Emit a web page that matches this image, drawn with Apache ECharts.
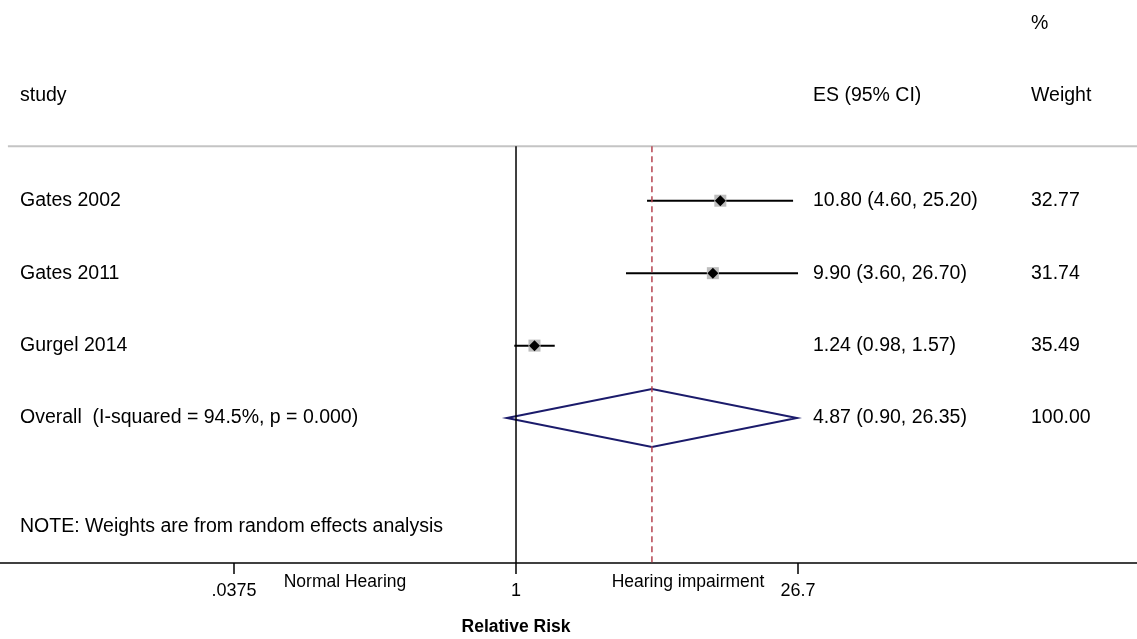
<!DOCTYPE html>
<html><head><meta charset="utf-8">
<script src="https://cdn.jsdelivr.net/npm/echarts@6/dist/echarts.min.js"></script>
<style>html,body{margin:0;padding:0;background:#fff}#c{width:1137px;height:639px}</style>
</head><body><div id="c"></div>
<script>
// ---- data ----
const studies = ['Gates 2002', 'Gates 2011', 'Gurgel 2014'];
const studyES = [10.80, 9.90, 1.24];
const studyLo = [4.60, 3.60, 0.98];
const studyHi = [25.20, 26.70, 1.57];
const studyWeight = ['32.77', '31.74', '35.49'];
const overallLabel = 'Overall  (I-squared = 94.5%, p = 0.000)';
const overallES = 4.87, overallLo = 0.90, overallHi = 26.35;
const overallWeight = '100.00';
const noteText = 'NOTE: Weights are from random effects analysis';
const tickValues = [0.0375, 1, 26.7];
const tickLabels = ['.0375', '1', '26.7'];
const favourLeft = 'Normal Hearing', favourRight = 'Hearing impairment';
const axisTitle = 'Relative Risk';

// ---- layout (log10 space on x, row index on y) ----
const xLogMin = -2.61, xLogMax = 3.141, ruleStart = -2.57;
const rowMin = -1.77, rowMax = 6;
const studyRows = [1, 2, 3];
const overallRow = 4, noteRow = 5.5, headerRow = -0.45, pctRow = -1.45, ruleRow = 0.25, axisRow = 6;
const L = Math.log10;
const FONT = '"Liberation Sans", Arial, sans-serif';

const studyData = studies.map((s, i) => [L(studyES[i]), L(studyLo[i]), L(studyHi[i]), studyRows[i]]);
const textRows = [];
textRows.push({row: pctRow, left: '', es: '', w: '%'});
textRows.push({row: headerRow, left: 'study', es: 'ES (95% CI)', w: 'Weight'});
studies.forEach((s, i) => textRows.push({row: studyRows[i], left: s,
  es: studyES[i].toFixed(2) + ' (' + studyLo[i].toFixed(2) + ', ' + studyHi[i].toFixed(2) + ')', w: studyWeight[i]}));
textRows.push({row: overallRow, left: overallLabel,
  es: overallES.toFixed(2) + ' (' + overallLo.toFixed(2) + ', ' + overallHi.toFixed(2) + ')', w: overallWeight});
textRows.push({row: noteRow, left: noteText, es: '', w: ''});

const chart = echarts.init(document.getElementById('c'));
chart.setOption({
  animation: false,
  backgroundColor: '#fff',
  grid: {left: 0, right: 0, top: 0, bottom: 76},
  xAxis: {
    type: 'value', min: xLogMin, max: xLogMax,
    axisLine: {show: true, onZero: false, lineStyle: {color: '#000', width: 1.5}},
    axisTick: {show: true, inside: false, customValues: tickValues.map(L), length: 11, lineStyle: {color: '#000', width: 1.5}},
    axisLabel: {show: true, customValues: tickValues.map(L), margin: 19, color: '#000', fontSize: 18, fontFamily: FONT,
      formatter: v => { let b = 0, d = 1e9; tickValues.forEach((t, i) => { const dd = Math.abs(L(t) - v); if (dd < d) { d = dd; b = i; } }); return tickLabels[b]; }},
    splitLine: {show: false}
  },
  yAxis: {type: 'value', min: rowMin, max: rowMax, inverse: true, show: false},
  series: [
    { // header rule
      type: 'line', data: [[ruleStart, ruleRow], [xLogMax, ruleRow]], symbol: 'none',
      lineStyle: {color: '#c4c4c4', width: 2}, silent: true
    },
    { // null line
      type: 'line', data: [[0, ruleRow], [0, axisRow]], symbol: 'none',
      lineStyle: {color: '#000', width: 1.5}, silent: true
    },
    { // overall effect dashed line
      type: 'line', data: [[L(overallES), ruleRow], [L(overallES), axisRow]], symbol: 'none',
      lineStyle: {color: '#b5434f', width: 1.5, type: [6, 4]}, silent: true
    },
    { // studies
      type: 'custom', data: studyData,
      renderItem: (params, api) => {
        const r = api.value(3);
        const p = api.coord([api.value(0), r]);
        const l = api.coord([api.value(1), r]);
        const h = api.coord([api.value(2), r]);
        return {type: 'group', children: [
          {type: 'line', shape: {x1: l[0], y1: l[1], x2: h[0], y2: h[1]}, style: {stroke: '#000', lineWidth: 2}},
          {type: 'rect', shape: {x: p[0] - 6, y: p[1] - 6, width: 12, height: 12}, style: {fill: '#bdbdbd'}},
          {type: 'polygon', shape: {points: [[p[0], p[1] - 5.5], [p[0] + 5.5, p[1]], [p[0], p[1] + 5.5], [p[0] - 5.5, p[1]]]}, style: {fill: '#000'}}
        ]};
      }
    },
    { // overall diamond
      type: 'custom', data: [[L(overallES), L(overallLo), L(overallHi), overallRow]],
      renderItem: (params, api) => {
        const r = api.value(3);
        const top = api.coord([api.value(0), r - 0.4]);
        const bot = api.coord([api.value(0), r + 0.4]);
        const l = api.coord([api.value(1), r]);
        const h = api.coord([api.value(2), r]);
        return {type: 'polygon', shape: {points: [l, top, h, bot]},
          style: {fill: 'none', stroke: '#1b1b6b', lineWidth: 2}};
      }
    },
    { // table text
      type: 'custom', data: textRows.map(t => [t.row]),
      renderItem: (params, api) => {
        const t = textRows[params.dataIndex];
        const y = api.coord([0, api.value(0)])[1];
        const st = (txt, x) => ({type: 'text', x: x, y: y, style: {text: txt, fill: '#000', font: '19.5px ' + FONT, textAlign: 'left', textVerticalAlign: 'middle'}});
        return {type: 'group', children: [st(t.left, 20), st(t.es, 813), st(t.w, 1031)]};
      }
    },
    { // favour labels and axis title
      type: 'custom', data: [[-0.865, 0], [0.87, 1], [0, 2]],
      renderItem: (params, api) => {
        const i = api.value(1);
        const p = api.coord([api.value(0), axisRow]);
        if (i === 2) {
          return {type: 'text', x: p[0], y: p[1] + 64, style: {text: axisTitle, fill: '#000', font: 'bold 17.5px ' + FONT, textAlign: 'center', textVerticalAlign: 'middle'}};
        }
        return {type: 'text', x: p[0], y: p[1] + 19, style: {text: i === 0 ? favourLeft : favourRight, fill: '#000', font: '17.5px ' + FONT, textAlign: 'center', textVerticalAlign: 'middle'}};
      }
    }
  ]
});
</script></body></html>
